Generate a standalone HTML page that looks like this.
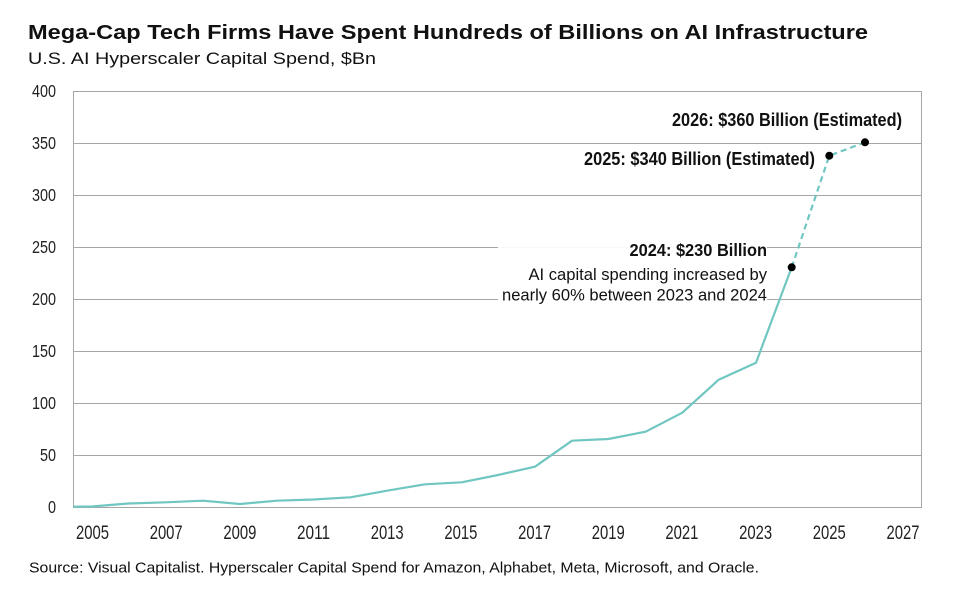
<!DOCTYPE html>
<html>
<head>
<meta charset="utf-8">
<style>
  html,body{margin:0;padding:0;background:#fff;}
  svg{display:block;}
  text{font-family:"Liberation Sans",Arial,sans-serif;}
</style>
</head>
<body>
<svg width="960" height="595" viewBox="0 0 960 595" xmlns="http://www.w3.org/2000/svg">
  <rect width="960" height="595" fill="#fff"/>
  <!-- Title -->
  <text x="28" y="39" font-size="20" font-weight="bold" fill="#111" textLength="840" lengthAdjust="spacingAndGlyphs">Mega-Cap Tech Firms Have Spent Hundreds of Billions on AI Infrastructure</text>
  <text x="28" y="64" font-size="17" fill="#111" textLength="348" lengthAdjust="spacingAndGlyphs">U.S. AI Hyperscaler Capital Spend, $Bn</text>

  <!-- Gridlines -->
  <g stroke="#a6a6a6" stroke-width="1" fill="none">
    <line x1="73.5" y1="91.5" x2="922" y2="91.5"/>
    <line x1="73.5" y1="143.5" x2="922" y2="143.5"/>
    <line x1="73.5" y1="195.5" x2="922" y2="195.5"/>
    <line x1="73.5" y1="247.5" x2="922" y2="247.5"/>
    <line x1="73.5" y1="299.5" x2="922" y2="299.5"/>
    <line x1="73.5" y1="351.5" x2="922" y2="351.5"/>
    <line x1="73.5" y1="403.5" x2="922" y2="403.5"/>
    <line x1="73.5" y1="455.5" x2="922" y2="455.5"/>
    <line x1="73.5" y1="507.5" x2="922" y2="507.5"/>
    <line x1="73.5" y1="91" x2="73.5" y2="508"/>
    <line x1="921.5" y1="91" x2="921.5" y2="508"/>
  </g>

  <!-- Y labels -->
  <g font-size="17.5" fill="#222" text-anchor="end">
    <text x="56" y="97" textLength="24" lengthAdjust="spacingAndGlyphs">400</text>
    <text x="56" y="149" textLength="24" lengthAdjust="spacingAndGlyphs">350</text>
    <text x="56" y="201" textLength="24" lengthAdjust="spacingAndGlyphs">300</text>
    <text x="56" y="253" textLength="24" lengthAdjust="spacingAndGlyphs">250</text>
    <text x="56" y="305" textLength="24" lengthAdjust="spacingAndGlyphs">200</text>
    <text x="56" y="357" textLength="24" lengthAdjust="spacingAndGlyphs">150</text>
    <text x="56" y="409" textLength="24" lengthAdjust="spacingAndGlyphs">100</text>
    <text x="56" y="461" textLength="16" lengthAdjust="spacingAndGlyphs">50</text>
    <text x="56" y="513" textLength="8" lengthAdjust="spacingAndGlyphs">0</text>
  </g>

  <!-- X labels -->
  <g font-size="19" fill="#222" text-anchor="middle">
    <text x="92.5" y="539" textLength="33" lengthAdjust="spacingAndGlyphs">2005</text>
    <text x="166.2" y="539" textLength="33" lengthAdjust="spacingAndGlyphs">2007</text>
    <text x="239.9" y="539" textLength="33" lengthAdjust="spacingAndGlyphs">2009</text>
    <text x="313.5" y="539" textLength="33" lengthAdjust="spacingAndGlyphs">2011</text>
    <text x="387.2" y="539" textLength="33" lengthAdjust="spacingAndGlyphs">2013</text>
    <text x="460.9" y="539" textLength="33" lengthAdjust="spacingAndGlyphs">2015</text>
    <text x="534.6" y="539" textLength="33" lengthAdjust="spacingAndGlyphs">2017</text>
    <text x="608.3" y="539" textLength="33" lengthAdjust="spacingAndGlyphs">2019</text>
    <text x="681.9" y="539" textLength="33" lengthAdjust="spacingAndGlyphs">2021</text>
    <text x="755.6" y="539" textLength="33" lengthAdjust="spacingAndGlyphs">2023</text>
    <text x="829.3" y="539" textLength="33" lengthAdjust="spacingAndGlyphs">2025</text>
    <text x="903" y="539" textLength="33" lengthAdjust="spacingAndGlyphs">2027</text>
  </g>

  <!-- Annotation background -->
  <rect x="498" y="247" width="269" height="59" fill="#fff" fill-opacity="0.92"/>

  <!-- Data line -->
  <polyline fill="none" stroke="#70c6c0" stroke-width="2.2" stroke-linejoin="round"
    points="73.3,506.7 92,506.5 128.5,503.5 166,502.3 203,500.7 240,504 277,500.7 313.5,499.5 350.5,497.3 387,490.7 425,484.3 461.7,482.3 498,475 535,466.7 572,440.7 608.3,439 645.7,431.7 682.3,412.7 718.7,379.7 756,362.7 791.7,267.3"/>
  <polyline fill="none" stroke="#70c6c0" stroke-width="2.2" stroke-dasharray="6,4"
    points="791.7,267.3 829.3,155.7 865,142.3"/>

  <!-- Dots -->
  <circle cx="791.7" cy="267.3" r="4" fill="#000"/>
  <circle cx="829.3" cy="155.7" r="4" fill="#000"/>
  <circle cx="865" cy="142.3" r="4" fill="#000"/>

  <!-- Annotations -->
  <g fill="#111" text-anchor="end">
    <text x="902" y="126" font-size="18" font-weight="bold" textLength="230" lengthAdjust="spacingAndGlyphs">2026: $360 Billion (Estimated)</text>
    <text x="815" y="165" font-size="18" font-weight="bold" textLength="231" lengthAdjust="spacingAndGlyphs">2025: $340 Billion (Estimated)</text>
    <text x="767" y="256" font-size="17.5" font-weight="bold" textLength="137.5" lengthAdjust="spacingAndGlyphs">2024: $230 Billion</text>
    <text x="767" y="280" font-size="17" textLength="238.5" lengthAdjust="spacingAndGlyphs">AI capital spending increased by</text>
    <text x="767" y="300.5" font-size="17" textLength="265" lengthAdjust="spacingAndGlyphs">nearly 60% between 2023 and 2024</text>
  </g>

  <!-- Source -->
  <text x="29" y="572.7" font-size="14.5" fill="#111" textLength="730" lengthAdjust="spacingAndGlyphs">Source: Visual Capitalist. Hyperscaler Capital Spend for Amazon, Alphabet, Meta, Microsoft, and Oracle.</text>
</svg>
</body>
</html>
